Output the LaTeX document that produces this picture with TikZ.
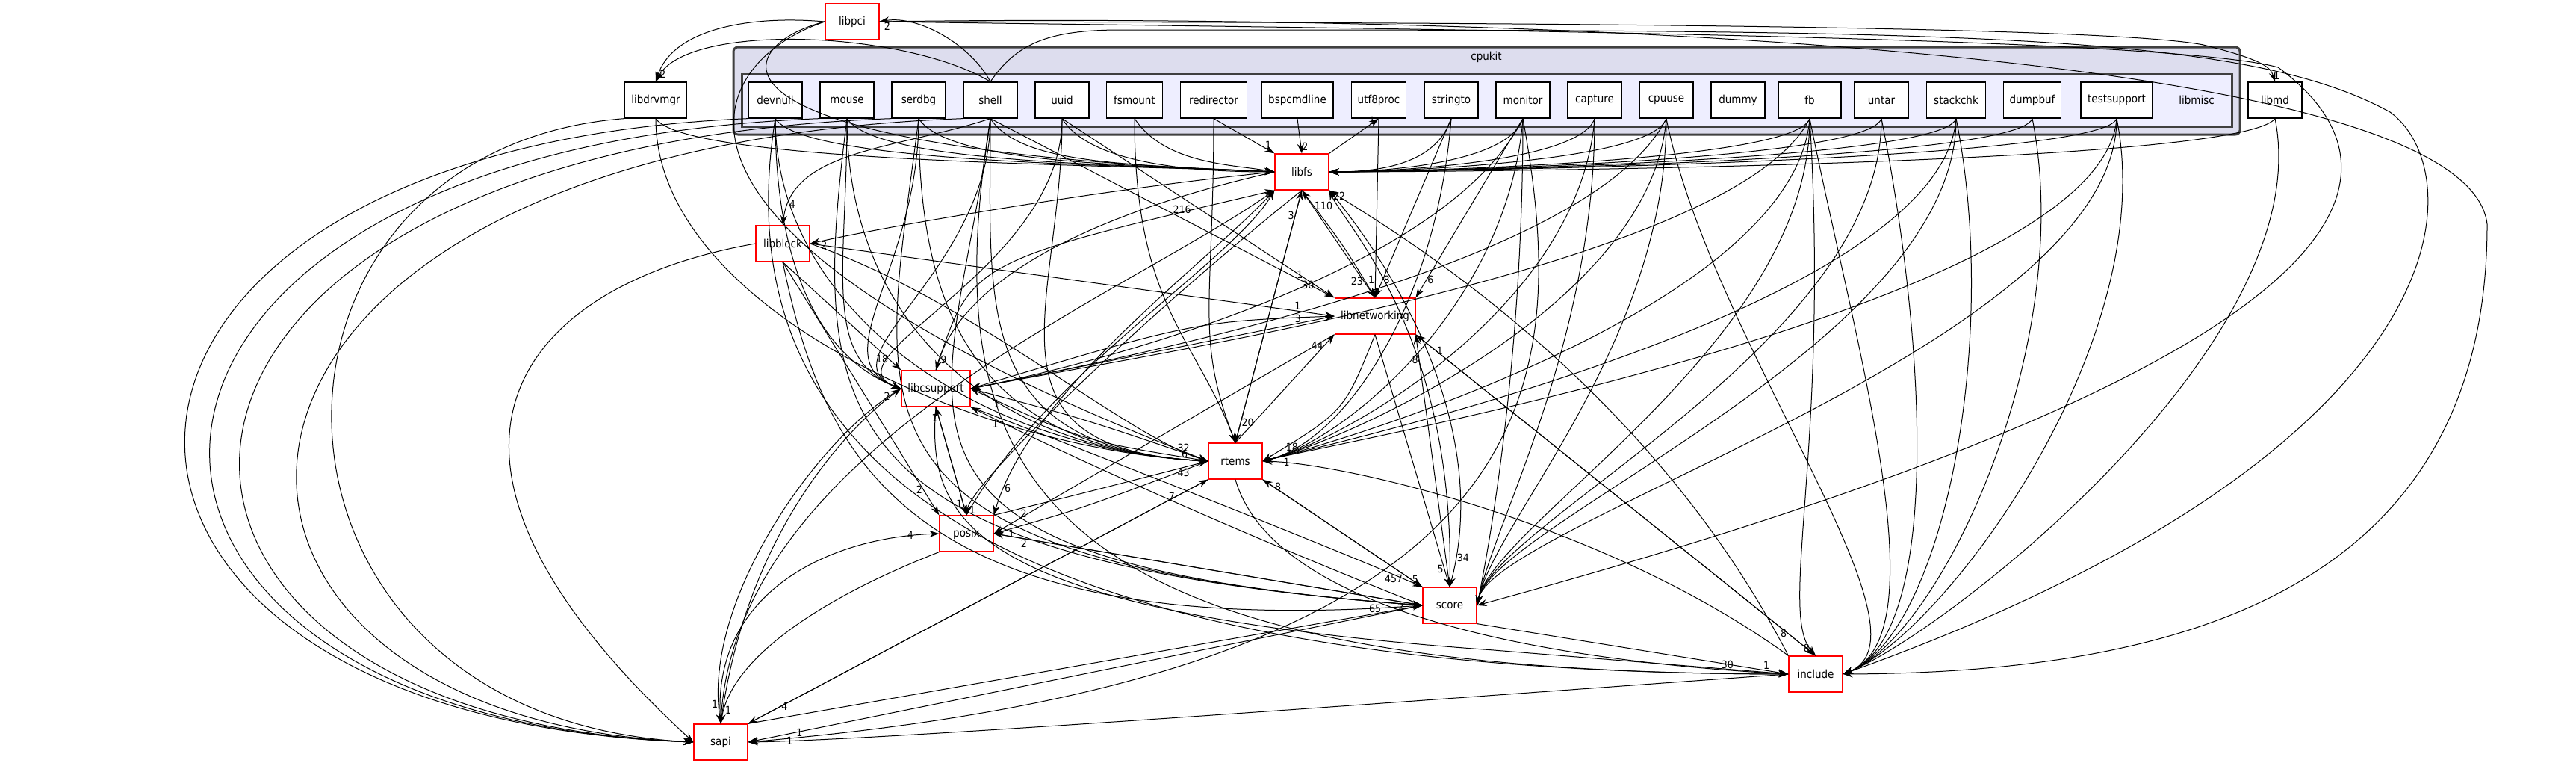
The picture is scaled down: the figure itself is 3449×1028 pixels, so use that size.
\documentclass[tikz,border=0pt]{standalone}
\usepackage{fontspec}
\setmainfont{DejaVu Sans Condensed}
\usetikzlibrary{arrows.meta,calc}
\definecolor{clout}{RGB}{221,221,238}
\definecolor{clin}{RGB}{238,238,255}
\definecolor{clbd}{RGB}{64,64,64}
\begin{document}
\begin{tikzpicture}[x=1pt,y=-1pt,
  dir/.style={draw=black,fill=white,line width=1.3pt,minimum height=48pt,minimum width=72pt,inner xsep=8pt,font=\fontsize{15}{15}\selectfont},
  rdir/.style={dir,draw=red},
  e/.style={-{Stealth[length=13pt,width=9pt]},line width=1pt},
  lab/.style={font=\fontsize{14}{14}\selectfont,inner sep=1pt}]
\useasboundingbox (0,0) rectangle (3449,1028);
\fill[white] (0,0) rectangle (3449,1028);
% clusters
\draw[fill=clout,draw=clbd,line width=3pt,rounded corners=6pt] (982,63) rectangle (2999,180);
\node[font=\fontsize{15}{15}\selectfont] (cpukitlab) at (1990,76) {cpukit};
\draw[fill=clin,draw=clbd,line width=3pt] (993,99) rectangle (2988,169);
\node[font=\fontsize{15}{15}\selectfont] (libmisclab) at (2941,134) {libmisc};
% nodes
\node[rdir] (libpci) at (1141,29) {libpci};
\node[dir,minimum width=83pt] (libdrvmgr) at (878,134) {libdrvmgr};
\node[dir] (devnull) at (1038,134) {devnull};
\node[dir] (mouse) at (1134,134) {mouse};
\node[dir] (serdbg) at (1230,134) {serdbg};
\node[dir] (shell) at (1326,134) {shell};
\node[dir] (uuid) at (1422,134) {uuid};
\node[dir,minimum width=75pt] (fsmount) at (1519,134) {fsmount};
\node[dir,minimum width=89pt] (redirector) at (1625,134) {redirector};
\node[dir,minimum width=96pt] (bspcmdline) at (1737,134) {bspcmdline};
\node[dir] (utf8proc) at (1846,134) {utf8proc};
\node[dir] (stringto) at (1943,134) {stringto};
\node[dir] (monitor) at (2039,134) {monitor};
\node[dir] (capture) at (2135,134) {capture};
\node[dir] (cpuuse) at (2231,134) {cpuuse};
\node[dir] (dummy) at (2327,134) {dummy};
\node[dir,minimum width=84pt] (fb) at (2423,134) {fb};
\node[dir] (untar) at (2519,134) {untar};
\node[dir,minimum width=79pt] (stackchk) at (2619,134) {stackchk};
\node[dir,minimum width=77pt] (dumpbuf) at (2721,134) {dumpbuf};
\node[dir,minimum width=96pt] (testsupport) at (2834,134) {testsupport};
\node[dir] (libmd) at (3046,134) {libmd};
\node[rdir] (libfs) at (1743,230) {libfs};
\node[rdir] (libblock) at (1048,326) {libblock};
\node[rdir,minimum width=105pt] (libnetworking) at (1841,423) {libnetworking};
\node[rdir,minimum width=92pt] (libcsupport) at (1253,520) {libcsupport};
\node[rdir] (rtems) at (1654,617) {rtems};
\node[rdir] (posix) at (1294,714) {posix};
\node[rdir] (score) at (1941,810) {score};
\node[rdir] (include) at (2431,902) {include};
\node[rdir] (sapi) at (965,993) {sapi};
% top-level edges
\draw[e] (shell.north) .. controls (1300,60) and (1230,20) .. node[lab,pos=0.97,below right]{2} (libpci.east);
\draw[e] (libpci.west) .. controls (1000,20) and (900,40) .. node[lab,pos=0.95,right]{2} (libdrvmgr.north);
\draw[e] (shell.north) .. controls (1210,40) and (920,30) .. (libdrvmgr.north);
\draw[e] (libpci.east) .. controls (1700,30) and (2800,30) .. (2950,60) .. controls (3030,80) and (3040,90) .. node[lab,pos=0.85,right]{1} (libmd.north);
\draw[e] (shell.north) .. controls (1360,60) and (1400,40) .. (1500,40) .. controls (2600,40) and (3000,40) .. (3200,150) .. controls (3310,230) and (3310,600) .. (include.east);
\draw[e] (libpci.east) .. controls (2000,40) and (2900,50) .. (3050,90) .. controls (3200,200) and (3300,450) .. (score.east);
\draw[e] (libpci.east) .. controls (1800,20) and (3300,40) .. (3330,300) .. controls (3330,800) and (2900,900) .. (include.east);
\draw[e] (libpci.west) .. controls (980,60) and (900,200) .. (libfs.west);
\draw[e] (libpci.west) .. controls (950,80) and (800,300) .. (rtems.west);
% leaves to libfs
\foreach \s in {devnull,mouse,serdbg,shell,libdrvmgr}
  \draw[e] (\s.south) .. controls ($(\s.south)+(40,60)$) and (1500,220) .. (libfs.west);
\draw[e] (uuid.south) .. controls (1460,220) and (1600,230) .. (libfs.west);
\draw[e] (fsmount.south) .. controls (1560,220) and (1650,220) .. (libfs.west);
\draw[e] (redirector.south) -- node[lab,pos=0.9,above]{1} (libfs.north west);
\draw[e] (bspcmdline.south) -- node[lab,pos=0.8,right]{2} (libfs.north);
\draw[e] (libfs.north east) -- node[lab,pos=0.95,left]{1} (utf8proc.south);
\foreach \s in {stringto,monitor,capture,cpuuse,fb,untar,stackchk,dumpbuf,testsupport}
  \draw[e] (\s.south) .. controls ($(\s.south)+(-20,60)$) and (1850,230) .. (libfs.east);
\draw[e] (libmd.south) .. controls (3000,220) and (2000,230) .. (libfs.east);
\draw[e] (libfs.west) .. controls (1500,250) and (1200,300) .. node[lab,pos=0.95,below]{2} (libblock.east);
\draw[e] (shell.south) .. controls (1200,200) and (1060,200) .. node[lab,pos=0.9,right]{4} (libblock.north);
% libnetworking
\draw[e] (libfs.south) -- node[lab,pos=0.85,left]{23} (libnetworking.north);
\draw[e] (utf8proc.south) -- node[lab,pos=0.9,left]{1} (libnetworking.north);
\draw[e] (stringto.south) -- node[lab,pos=0.9,right]{8} (libnetworking.north);
\draw[e] (monitor.south) -- node[lab,pos=0.9,right]{6} (libnetworking.north east);
\draw[e] (shell.south) -- node[lab,pos=0.9,above]{1} (libnetworking.north west);
\draw[e] (uuid.south) -- node[lab,pos=0.93,left]{30} (libnetworking.north west);
\draw[e] (libblock.east) -- node[lab,pos=0.93,above]{1} (libnetworking.west);
\draw[e] (libcsupport.east) -- node[lab,pos=0.9,above]{3} (libnetworking.west);
\draw[e] (rtems.north) -- node[lab,pos=0.9,left]{44} (libnetworking.south west);
\draw[e] (score.north) -- node[lab,pos=0.9,left]{8} (libnetworking.south east);
\draw[e] (include.north) -- node[lab,pos=0.95,right]{1} (libnetworking.south east);
\draw[e] (libnetworking.north) .. controls (1800,330) .. node[lab,pos=0.9,right]{110} (libfs.south);
\draw[e] (libnetworking.west) .. controls (1600,430) .. (libcsupport.east);
\draw[e] (libnetworking.south) .. controls (1800,550) .. node[lab,pos=0.9,right]{18} (rtems.east);
\draw[e] (libnetworking.south) -- node[lab,pos=0.93,left]{5} (score.north);
\draw[e] (libnetworking.south east) -- node[lab,pos=0.93,left]{8} (include.north);
\draw[e] (libnetworking.south west) -- node[lab,pos=0.9,left]{2} (posix.east);
% libfs core
\draw[e] (libcsupport.north) .. controls (1300,350) .. node[lab,pos=0.9,left]{216} (libfs.south west);
\draw[e] (libfs.west) .. controls (1400,300) and (1280,400) .. node[lab,pos=0.95,right]{9} (libcsupport.north);
\draw[e] (rtems.north) -- node[lab,pos=0.9,left]{3} (libfs.south);
\draw[e] (libfs.south) -- node[lab,pos=0.92,right]{20} (rtems.north);
\draw[e] (posix.north) .. controls (1400,500) and (1650,350) .. (libfs.south west);
\draw[e] (libfs.south west) .. controls (1620,350) and (1380,520) .. node[lab,pos=0.93,right]{6} (posix.north east);
\draw[e] (score.north) .. controls (1950,450) and (1800,300) .. node[lab,pos=0.95,right]{22} (libfs.south east);
\draw[e] (libfs.south east) .. controls (1900,400) and (1990,600) .. node[lab,pos=0.93,right]{34} (score.north);
\draw[e] (include.north west) .. controls (2200,500) and (1850,300) .. (libfs.south east);
\draw[e] (sapi.north) .. controls (980,600) and (1500,400) .. (libfs.south west);
\draw[e] (libblock.south) -- node[lab,pos=0.9,left]{18} (libcsupport.north west);
\draw[e] (libfs.south) .. controls (1500,450) and (1300,650) .. node[lab,pos=0.95,right]{1} (posix.north);
% libcsupport core
\draw[e] (libcsupport.east) .. controls (1450,560) .. node[lab,pos=0.93,above]{32} (rtems.west);
\draw[e] (rtems.west) .. controls (1450,590) .. node[lab,pos=0.93,below right]{1} (libcsupport.east);
\draw[e] (libcsupport.south) -- node[lab,pos=0.9,left]{1} (posix.north);
\draw[e] (posix.north) -- node[lab,pos=0.9,left]{1} (libcsupport.south);
\draw[e] (libcsupport.south east) .. controls (1500,620) and (1800,740) .. node[lab,pos=0.93,left]{457} (score.north west);
\draw[e] (score.west) .. controls (1700,730) and (1450,620) .. node[lab,pos=0.93,below]{1} (libcsupport.south east);
\draw[e] (libcsupport.south) .. controls (1240,700) and (1300,820) .. (2000,870) -- (include.west);
\draw[e] (sapi.north) .. controls (1000,700) and (1150,560) .. node[lab,pos=0.93,left]{2} (libcsupport.west);
\draw[e] (libcsupport.west) .. controls (1100,580) and (940,800) .. node[lab,pos=0.95,left]{1} (sapi.north);
% rtems core
\draw[e] (posix.north east) .. controls (1450,660) .. node[lab,pos=0.93,below]{43} (rtems.west);
\draw[e] (rtems.west) .. controls (1450,680) .. node[lab,pos=0.93,below]{1} (posix.east);
\draw[e] (rtems.south east) -- node[lab,pos=0.93,right]{5} (score.north west);
\draw[e] (score.north west) -- node[lab,pos=0.93,right]{8} (rtems.south east);
\draw[e] (include.north west) .. controls (2150,700) and (1800,620) .. node[lab,pos=0.93,right]{1} (rtems.east);
\draw[e] (rtems.south) .. controls (1700,800) and (2000,880) .. node[lab,pos=0.93,above]{30} (include.west);
\draw[e] (sapi.north east) -- node[lab,pos=0.93,left]{7} (rtems.south west);
\draw[e] (rtems.south west) -- node[lab,pos=0.93,right]{4} (sapi.north east);
\draw[e] (libblock.east) .. controls (1300,400) and (1500,580) .. node[lab,pos=0.93,left]{6} (rtems.west);
% posix / score / sapi
\draw[e] (posix.east) -- node[lab,pos=0.95,below]{2} (score.west);
\draw[e] (score.west) -- node[lab,pos=0.93,below]{2} (posix.east);
\draw[e] (score.south east) -- node[lab,pos=0.93,above]{1} (include.west);
\draw[e] (sapi.north east) -- node[lab,pos=0.93,above]{65} (score.west);
\draw[e] (score.west) -- node[lab,pos=0.93,right]{1} (sapi.east);
\draw[e] (include.west) .. controls (2000,930) and (1200,990) .. node[lab,pos=0.93,right]{1} (sapi.east);
\draw[e] (sapi.north) .. controls (950,800) and (1100,720) .. node[lab,pos=0.93,left]{4} (posix.west);
\draw[e] (posix.south west) .. controls (1100,800) and (980,880) .. node[lab,pos=0.93,right]{1} (sapi.north);
\draw[e] (libblock.south) -- node[lab,pos=0.9,left]{2} (posix.north west);
\draw[e] (libblock.south) .. controls (1100,600) and (1200,860) .. (score.west);
\draw[e] (libblock.west) .. controls (700,380) and (500,600) .. (sapi.west);
% leaves downward
\foreach \s/\c in {devnull/10,mouse/40,serdbg/80,shell/170,libdrvmgr/300}
  \draw[e] (\s.south west) .. controls (\c,200) and (\c,960) .. (sapi.west);
\foreach \s in {devnull,mouse,serdbg,shell,uuid,libdrvmgr}
  \draw[e] (\s.south) .. controls ($(\s.south)+(0,250)$) and (1300,600) .. (rtems.west);
\foreach \s in {devnull,mouse,serdbg,shell,uuid}
  \draw[e] (\s.south) .. controls ($(\s.south)+(0,200)$) and (1100,480) .. (libcsupport.west);
\foreach \s in {mouse,serdbg,shell}
  \draw[e] (\s.south) .. controls ($(\s.south)+(-50,400)$) and (1100,750) .. (score.west);
\foreach \s in {devnull,shell}
  \draw[e] (\s.south) .. controls ($(\s.south)+(-80,500)$) and (1400,900) .. (include.west);
\foreach \s in {fsmount,redirector}
  \draw[e] (\s.south) .. controls ($(\s.south)+(0,250)$) and (1600,450) .. (rtems.north);
\foreach \s in {monitor,capture,cpuuse,fb,stackchk,testsupport,stringto}
  \draw[e] (\s.south) .. controls ($(\s.south)+(-20,250)$) and (1800,590) .. (rtems.east);
\foreach \s in {monitor,capture,cpuuse,fb,untar,stackchk,testsupport}
  \draw[e] (\s.south) .. controls ($(\s.south)+(0,300)$) and (2000,700) .. (score.east);
\foreach \s in {cpuuse,fb,untar,stackchk,dumpbuf,testsupport,libmd}
  \draw[e] (\s.south) .. controls ($(\s.south)+(60,300)$) and (2600,850) .. (include.east);
\foreach \s in {monitor,cpuuse,fb}
  \draw[e] (\s.south) .. controls ($(\s.south)+(-100,200)$) and (1500,480) .. (libcsupport.east);
\draw[e] (monitor.south) .. controls (2100,500) and (2100,900) .. (sapi.east);
\draw[e] (fb.south) .. controls (2450,600) and (2380,820) .. node[lab,pos=0.95,left]{8} (include.north);
\end{tikzpicture}
\end{document}
